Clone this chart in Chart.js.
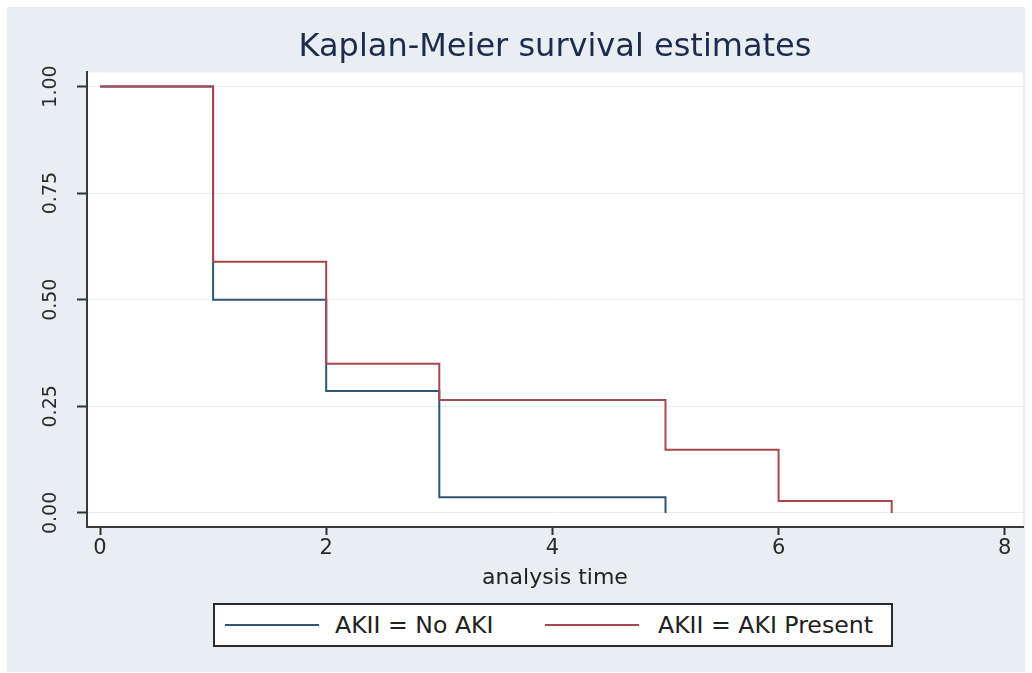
<!DOCTYPE html>
<html>
<head>
<meta charset="utf-8">
<title>Kaplan-Meier survival estimates</title>
<script src="https://cdn.jsdelivr.net/npm/chart.js@4.4.1/dist/chart.umd.min.js"></script>
<style>
    html, body { margin: 0; padding: 0; background: #ffffff; }
    #wrap { position: relative; width: 1032px; height: 673px; overflow: hidden; }
    #bg { position: absolute; left: 7px; top: 7px; width: 1018px; height: 665px; background: #e8eef1; }
    #chart { position: absolute; left: 0; top: 0; }
    #legend {
        position: absolute; left: 213px; top: 603px; width: 676px; height: 40px;
        border: 2px solid #2b2b2b; background: #ffffff;
        font-family: "DejaVu Sans", sans-serif; font-size: 23.6px; color: #222222;
    }
    #legend .sw { position: absolute; top: 19px; height: 2px; width: 94px; }
    #legend .lbl { position: absolute; top: 0; line-height: 40px; white-space: nowrap; }
</style>
</head>
<body>
<div id="wrap">
    <div id="bg"></div>
    <canvas id="chart" width="1032" height="673"></canvas>
    <div id="legend">
        <span class="sw" id="sw-0" style="left:10px"></span>
        <span class="lbl" id="lbl-0" style="left:120px"></span>
        <span class="sw" id="sw-1" style="left:330px"></span>
        <span class="lbl" id="lbl-1" style="left:443px"></span>
    </div>
</div>
<script>
// survival curves
const seriesNames = ['AKII = No AKI', 'AKII = AKI Present'];
const noAkiTimes = [0, 1, 2, 3, 5];
const noAkiSurvival = [1.00, 0.50, 0.286, 0.037, 0.00];
const akiTimes = [0, 1, 2, 3, 5, 6, 7];
const akiSurvival = [1.00, 0.589, 0.350, 0.265, 0.148, 0.028, 0.00];
const xTicks = [0, 2, 4, 6, 8];
const yTicks = [0, 0.25, 0.5, 0.75, 1];

const seriesColors = ['#2f5679', '#a9474f'];

document.addEventListener('DOMContentLoaded', function() {
    const ctx = document.getElementById('chart').getContext('2d');

    function toPoints(times, values) {
        return times.map((t, i) => ({ x: t, y: values[i] }));
    }

    // white plot region
    const plotBackground = {
        id: 'plotBackground',
        beforeDraw(chart) {
            const a = chart.chartArea;
            const c = chart.ctx;
            c.save();
            c.fillStyle = '#ffffff';
            c.fillRect(a.left, a.top, a.right - a.left, a.bottom - a.top);
            c.restore();
        }
    };

    new Chart(ctx, {
        type: 'line',
        data: {
            datasets: [
                {
                    label: seriesNames[0],
                    data: toPoints(noAkiTimes, noAkiSurvival),
                    borderColor: seriesColors[0],
                    order: 1
                },
                {
                    label: seriesNames[1],
                    data: toPoints(akiTimes, akiSurvival),
                    borderColor: seriesColors[1],
                    order: 0
                }
            ]
        },
        options: {
            responsive: false,
            animation: false,
            layout: { padding: { top: 20, left: 7, right: 9, bottom: 82 } },
            elements: {
                line: { stepped: 'before', borderWidth: 2, fill: false, tension: 0 },
                point: { radius: 0, hoverRadius: 0 }
            },
            plugins: {
                legend: { display: false },
                tooltip: { enabled: false },
                title: {
                    display: true,
                    text: 'Kaplan-Meier survival estimates',
                    fullSize: false,
                    color: '#1e2b4e',
                    font: { family: 'DejaVu Sans', size: 32, weight: 'normal' },
                    padding: { top: 8, bottom: 6 }
                }
            },
            scales: {
                x: {
                    type: 'linear',
                    min: -0.115,
                    max: 8.161,
                    afterBuildTicks: s => { s.ticks = xTicks.map(v => ({ value: v })); },
                    afterFit: s => { s.height = 64; },
                    grid: { drawOnChartArea: false, drawTicks: true, tickLength: 8, tickColor: '#333333', tickWidth: 2 },
                    border: { color: '#3a3a3a', width: 2 },
                    ticks: {
                        color: '#2a2a2a',
                        padding: 1,
                        maxRotation: 0,
                        font: { family: 'DejaVu Sans', size: 21 }
                    },
                    title: {
                        display: true,
                        text: 'analysis time',
                        color: '#222222',
                        padding: { top: 2, bottom: 0 },
                        font: { family: 'DejaVu Sans', size: 22 }
                    }
                },
                y: {
                    type: 'linear',
                    min: -0.033,
                    max: 1.033,
                    afterBuildTicks: s => { s.ticks = yTicks.map(v => ({ value: v })); },
                    afterFit: s => { s.width = 80; },
                    grid: { color: '#e9eff1', lineWidth: 1, drawTicks: true, tickLength: 10, tickColor: '#333333', tickWidth: 2 },
                    border: { color: '#3a3a3a', width: 2 },
                    ticks: {
                        color: '#2a2a2a',
                        padding: 5,
                        minRotation: 90,
                        maxRotation: 90,
                        crossAlign: 'center',
                        font: { family: 'DejaVu Sans', size: 19 },
                        callback: v => v.toFixed(2)
                    }
                }
            }
        },
        plugins: [plotBackground]
    });

    // legend box under the axis
    seriesNames.forEach((name, i) => {
        document.getElementById('sw-' + i).style.background = seriesColors[i];
        document.getElementById('lbl-' + i).textContent = name;
    });
});
</script>
</body>
</html>
